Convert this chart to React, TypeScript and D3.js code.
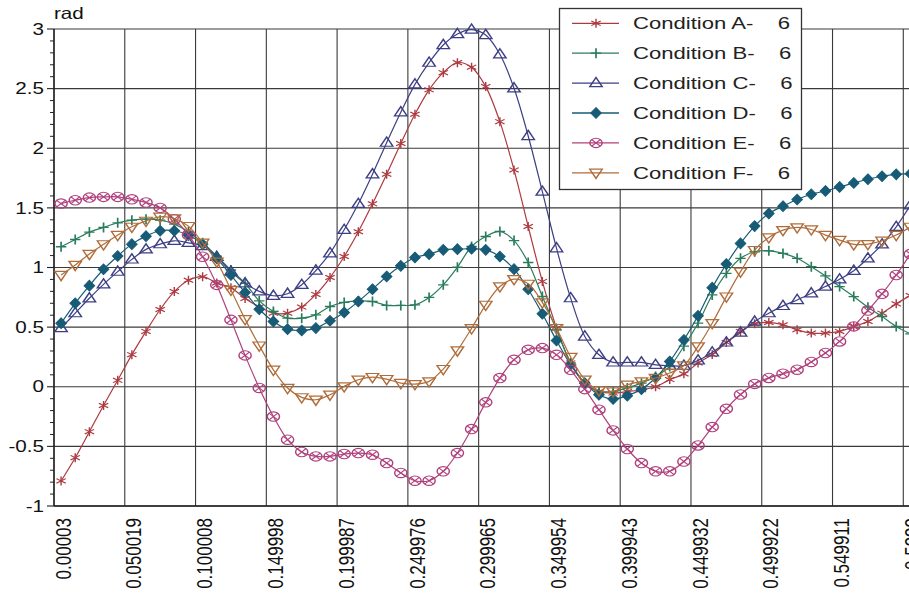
import React from 'react';
import * as d3 from 'd3';

const xValues = [
  0.005029, 0.015027, 0.025025, 0.035022, 0.04502, 0.055018, 0.065016, 0.075014, 0.085011, 0.095009,
  0.105007, 0.115005, 0.125003, 0.135, 0.144998, 0.154996, 0.164994, 0.174992, 0.184989, 0.194987,
  0.204985, 0.214983, 0.224981, 0.234978, 0.244976, 0.254974, 0.264972, 0.27497, 0.284967, 0.294965,
  0.304963, 0.314961, 0.324959, 0.334956, 0.344954, 0.354952, 0.36495, 0.374948, 0.384945, 0.394943,
  0.404941, 0.414939, 0.424937, 0.434934, 0.444932, 0.45493, 0.464928, 0.474926, 0.484923, 0.494921,
  0.504919, 0.514917, 0.524915, 0.534912, 0.54491, 0.554908, 0.564906, 0.574904, 0.584901, 0.594899,
  0.604897,
];

const xTickValues = [0.00003, 0.050019, 0.100008, 0.149998, 0.199987, 0.249976, 0.299965, 0.349954, 0.399943, 0.449932, 0.499922, 0.549911, 0.5999];
const xTickLabels = ['0.00003', '0.050019', '0.100008', '0.149998', '0.199987', '0.249976', '0.299965', '0.349954', '0.399943', '0.449932', '0.499922', '0.549911', '0.5999'];
const yTickValues = [-1, -0.5, 0, 0.5, 1, 1.5, 2, 2.5, 3];
const yTickLabels = ['-1', '-0.5', '0', '0.5', '1', '1.5', '2', '2.5', '3'];
const yMinorTicks = [-0.9, -0.8, -0.7, -0.6, -0.4, -0.3, -0.2, -0.1, 0.1, 0.2, 0.3, 0.4, 0.6, 0.7, 0.8, 0.9, 1.1, 1.2, 1.3, 1.4, 1.6, 1.7, 1.8, 1.9, 2.1, 2.2, 2.3, 2.4, 2.6, 2.7, 2.8, 2.9];

const seriesNames = ['Condition A-', 'Condition B-', 'Condition C-', 'Condition D-', 'Condition E-', 'Condition F-'];
const seriesCounts = ['6', '6', '6', '6', '6', '6'];
const seriesColors = ['#ad3a40', '#2a7d5c', '#3d3f84', '#175b76', '#b0407d', '#b06d3a'];
const seriesMarkers = ['asterisk', 'plus', 'triUp', 'diamond', 'circleX', 'triDown'];

const seriesA = [
  -0.79, -0.595, -0.377, -0.157, 0.054, 0.269, 0.464, 0.648, 0.798, 0.893,
  0.923, 0.87, 0.83, 0.74, 0.67, 0.617, 0.617, 0.668, 0.774, 0.916,
  1.092, 1.3, 1.534, 1.782, 2.04, 2.285, 2.49, 2.634, 2.718, 2.68,
  2.517, 2.223, 1.818, 1.344, 0.883, 0.492, 0.2, 0.03, -0.04, -0.053,
  -0.04, -0.025, 0.0, 0.06, 0.108, 0.2, 0.27, 0.372, 0.464, 0.528,
  0.539, 0.52, 0.478, 0.45, 0.45, 0.464, 0.505, 0.547, 0.617, 0.695,
  0.765,
];
const seriesB = [
  1.174, 1.235, 1.297, 1.336, 1.375, 1.397, 1.405, 1.397, 1.364, 1.3,
  1.208, 1.096, 0.979, 0.868, 0.72, 0.631, 0.575, 0.575, 0.603, 0.673,
  0.707, 0.72, 0.715, 0.682, 0.682, 0.687, 0.749, 0.855, 1.003, 1.176,
  1.26, 1.302, 1.226, 1.042, 0.757, 0.478, 0.2, 0.03, -0.04, -0.04,
  -0.01, 0.03, 0.087, 0.17, 0.34, 0.533, 0.77, 0.951, 1.077, 1.132,
  1.14, 1.118, 1.077, 1.007, 0.929, 0.84, 0.756, 0.667, 0.589, 0.506,
  0.444,
];
const seriesC = [
  0.492, 0.617, 0.742, 0.859, 0.965, 1.068, 1.152, 1.196, 1.224, 1.207,
  1.18, 1.09, 0.965, 0.868, 0.8, 0.763, 0.78, 0.855, 0.975, 1.12,
  1.316, 1.534, 1.782, 2.047, 2.302, 2.536, 2.718, 2.866, 2.958, 2.995,
  2.95, 2.788, 2.503, 2.103, 1.637, 1.162, 0.743, 0.422, 0.268, 0.204,
  0.204, 0.204, 0.184, 0.176, 0.177, 0.221, 0.288, 0.372, 0.455, 0.547,
  0.617, 0.678, 0.728, 0.784, 0.84, 0.901, 0.973, 1.077, 1.194, 1.341,
  1.522,
];
const seriesD = [
  0.533, 0.7, 0.848, 0.985, 1.096, 1.196, 1.263, 1.308, 1.308, 1.272,
  1.194, 1.077, 0.937, 0.79, 0.65, 0.547, 0.483, 0.472, 0.492, 0.553,
  0.623, 0.715, 0.818, 0.925, 1.014, 1.084, 1.112, 1.148, 1.154, 1.157,
  1.148, 1.092, 0.986, 0.818, 0.612, 0.388, 0.184, 0.03, -0.067, -0.103,
  -0.075, -0.02, 0.073, 0.212, 0.392, 0.595, 0.831, 1.029, 1.202, 1.347,
  1.453, 1.514, 1.57, 1.614, 1.642, 1.675, 1.709, 1.74, 1.765, 1.781,
  1.787,
];
const seriesE = [
  1.536, 1.564, 1.586, 1.592, 1.592, 1.572, 1.545, 1.5, 1.405, 1.272,
  1.09, 0.854, 0.561, 0.263, -0.01, -0.25, -0.444, -0.547, -0.584, -0.584,
  -0.564, -0.556, -0.57, -0.64, -0.723, -0.788, -0.788, -0.709, -0.556, -0.355,
  -0.131, 0.073, 0.226, 0.31, 0.324, 0.268, 0.142, -0.02, -0.193, -0.366,
  -0.522, -0.64, -0.709, -0.709, -0.627, -0.492, -0.338, -0.185, -0.065, 0.024,
  0.074, 0.11, 0.143, 0.208, 0.283, 0.38, 0.506, 0.639, 0.779, 0.937,
  1.113,
];
const seriesF = [
  0.937, 1.021, 1.113, 1.194, 1.272, 1.341, 1.391, 1.425, 1.411, 1.347,
  1.208, 1.049, 0.812, 0.567, 0.345, 0.142, -0.011, -0.089, -0.109, -0.067,
  0.003, 0.059, 0.081, 0.064, 0.031, 0.022, 0.045, 0.148, 0.304, 0.49,
  0.687, 0.841, 0.902, 0.863, 0.707, 0.492, 0.249, 0.059, -0.031, -0.039,
  0.017, 0.045, 0.073, 0.115, 0.178, 0.338, 0.533, 0.756, 0.965, 1.146,
  1.252, 1.313, 1.336, 1.319, 1.272, 1.23, 1.194, 1.196, 1.224, 1.272,
  1.341,
];

const allSeries = [seriesA, seriesB, seriesC, seriesD, seriesE, seriesF];

const SX = 1.3;
const FONT = '"Liberation Sans", Arial, Helvetica, sans-serif';

function Marker({ kind, x, y, color }: { kind: string; x: number; y: number; color: string }) {
  const t = `translate(${x},${y}) scale(${SX},1)`;
  switch (kind) {
    case 'asterisk':
      return <path transform={t} d="M0,-4.5V4.5M-3.6,-2.3L3.6,2.3M-3.6,2.3L3.6,-2.3" stroke={color} strokeWidth={1.1} fill="none" />;
    case 'plus':
      return <path transform={t} d="M-4,0H4M0,-5V5" stroke={color} strokeWidth={1.3} fill="none" />;
    case 'triUp':
      return <path transform={t} d="M0,-5.6L4.8,3.6L-4.8,3.6Z" stroke={color} strokeWidth={1.2} fill="none" />;
    case 'triDown':
      return <path transform={t} d="M0,5.6L4.8,-3.6L-4.8,-3.6Z" stroke={color} strokeWidth={1.2} fill="none" />;
    case 'diamond':
      return <path transform={t} d="M0,-5.4L4.1,0L0,5.4L-4.1,0Z" stroke={color} strokeWidth={0.8} fill={color} />;
    case 'circleX':
      return (
        <g transform={t}>
          <circle r={4.7} stroke={color} strokeWidth={1.1} fill="none" />
          <path d="M-3.3,-3.3L3.3,3.3M-3.3,3.3L3.3,-3.3" stroke={color} strokeWidth={1} />
        </g>
      );
    default:
      return null;
  }
}

export default function App() {
  const left = 54;
  const top = 29;
  const bottom = 506;
  const x = d3.scaleLinear().domain([0.00003, 0.5999]).range([left, 903.3]);
  const y = d3.scaleLinear().domain([-1, 3]).range([bottom, top]);
  const line = d3
    .line<number>()
    .x((_, i) => x(xValues[i]))
    .y((d) => y(d))
    .curve(d3.curveCatmullRom.alpha(0.5));

  const legendX = 559.5;
  const legendY = 8.5;
  const rowY = (i: number) => 23.3 + 29.9 * i;

  return (
    <svg width={909} height={596} style={{ position: 'absolute', left: 0, top: 0, background: '#fff' }} fontFamily={FONT}>
      <rect x={0} y={0} width={909} height={596} fill="#fff" />
      {yTickValues.map((v) => (
        <line key={'gy' + v} x1={left} x2={909} y1={y(v)} y2={y(v)} stroke="#3a3a3a" strokeWidth={1.1} />
      ))}
      {xTickValues.map((v) => (
        <line key={'gx' + v} x1={x(v)} x2={x(v)} y1={top} y2={bottom} stroke="#3a3a3a" strokeWidth={1.1} />
      ))}
      <line x1={left} x2={left} y1={top} y2={bottom} stroke="#222" strokeWidth={1.4} />
      <line x1={left} x2={909} y1={bottom} y2={bottom} stroke="#222" strokeWidth={1.4} />
      {yTickValues.map((v) => (
        <line key={'ty' + v} x1={47} x2={left} y1={y(v)} y2={y(v)} stroke="#222" strokeWidth={1.1} />
      ))}
      {yMinorTicks.map((v) => (
        <line key={'tm' + v} x1={50} x2={left} y1={y(v)} y2={y(v)} stroke="#222" strokeWidth={1} />
      ))}
      {yTickValues.map((v, i) => (
        <text
          key={'ly' + v}
          transform={`translate(44,${y(v)}) scale(1.25,1)`}
          textAnchor="end"
          dominantBaseline="central"
          fontSize={16.5}
          fill="#111"
        >
          {yTickLabels[i]}
        </text>
      ))}
      <text transform={`translate(54,19) scale(1.25,1)`} fontSize={16.5} fill="#111">
        rad
      </text>
      {xTickValues.map((v, i) => (
        <text
          key={'lx' + v}
          transform={`translate(${x(v) + 8.8},518) rotate(-90) scale(1,1.3)`}
          textAnchor="end"
          dominantBaseline="central"
          fontSize={17}
          fill="#111"
        >
          {xTickLabels[i]}
        </text>
      ))}
      {allSeries.map((s, si) => (
        <g key={'s' + si}>
          <path d={line(s) || ''} fill="none" stroke={seriesColors[si]} strokeWidth={1.2} />
          {s.map((v, i) => (
            <Marker key={i} kind={seriesMarkers[si]} x={x(xValues[i])} y={y(v)} color={seriesColors[si]} />
          ))}
        </g>
      ))}
      <rect x={legendX} y={legendY} width={242} height={181} fill="#fff" stroke="#333" strokeWidth={1.3} />
      {seriesNames.map((name, i) => (
        <g key={'lg' + i}>
          <line x1={572} x2={619} y1={rowY(i)} y2={rowY(i)} stroke={seriesColors[i]} strokeWidth={1.3} />
          <Marker kind={seriesMarkers[i]} x={596} y={rowY(i)} color={seriesColors[i]} />
          <text
            transform={`translate(633,${rowY(i)}) scale(1.3,1)`}
            dominantBaseline="central"
            fontSize={17}
            fill="#222"
            style={{ whiteSpace: 'pre' }}
          >
            {name + '    ' + seriesCounts[i]}
          </text>
        </g>
      ))}
    </svg>
  );
}
